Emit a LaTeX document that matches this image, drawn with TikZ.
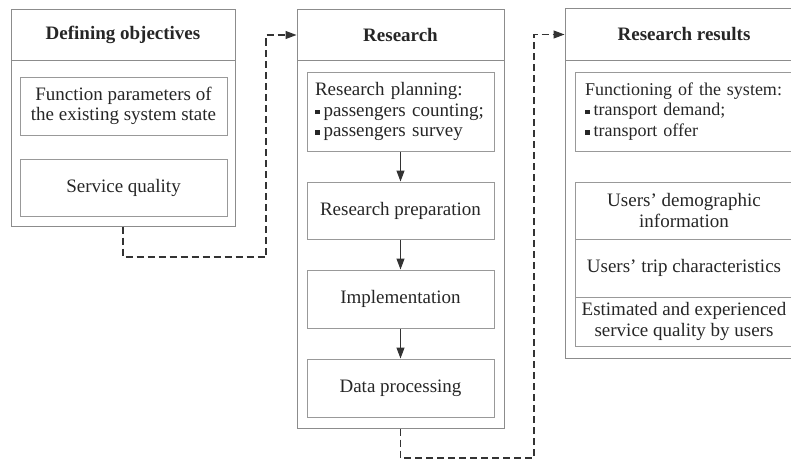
\documentclass[tikz,border=0pt]{standalone}
\usepackage{fontspec}
\setmainfont{Liberation Serif}
\usetikzlibrary{arrows.meta,positioning}
\newcommand{\boxfont}{\fontsize{19}{20.5}\selectfont}
\tikzset{
  frame/.style={rectangle, draw=black!45, line width=1pt, inner sep=0pt},
  headbox/.style={frame, font=\boxfont\bfseries, minimum height=50pt},
  stepbox/.style={rectangle, draw=black!40, line width=1pt, align=center, inner sep=0pt},
  listbox/.style={stepbox, align=left},
  flow/.style={-{Triangle[length=11pt,width=8pt]}, line width=1.1pt, draw=black!80},
  fb/.style={flow, dash pattern=on 7pt off 4pt},
}
\newcommand{\sqb}{\raisebox{0.22ex}{\rule{4.5pt}{4.5pt}}\hspace{4pt}}

\begin{document}
\begin{tikzpicture}[x=1pt, y=-1pt, font=\boxfont, text=black!85]
  \clip (0,0) rectangle (791,460);
  % defining objectives
  \node[headbox, minimum width=224pt] (objhead) at (123,35) {Defining objectives};
  \node[frame, minimum width=224pt, minimum height=166pt] (objbody) at (123,143) {};
  \node[stepbox, minimum width=207pt, minimum height=58pt] (objfun) at (123.5,106)
    {Function parameters of\\the existing system state};
  \node[stepbox, minimum width=207pt, minimum height=57pt] (objsq) at (123.5,187.5)
    {Service quality};
  % research
  \node[headbox, minimum width=207pt] (reshead) at (400.5,35) {Research};
  \node[frame, minimum width=207pt, minimum height=368pt] (resbody) at (400.5,244) {};
  \node[listbox, text width=171pt, minimum width=187pt, minimum height=79pt] (resplan) at (400.5,111.5)
    {Research planning:\\\sqb passengers counting;\\\sqb passengers survey};
  \node[stepbox, minimum width=187pt, minimum height=57pt] (resprep) at (400.5,210.5) {Research preparation};
  \node[stepbox, minimum width=187pt, minimum height=58pt] (resimpl) at (400.5,299) {Implementation};
  \node[stepbox, minimum width=187pt, minimum height=58pt] (resdata) at (400.5,388) {Data processing};
  \foreach \a/\b in {resplan/resprep, resprep/resimpl, resimpl/resdata}
    \draw[flow] (\a) -- (\b);
  % research results
  \node[headbox, minimum width=238pt, minimum height=51pt] (outhead) at (684,34.5) {Research results};
  \node[frame, minimum width=238pt, minimum height=298pt] (outbody) at (684,209) {};
  \node[listbox, font=\fontsize{18}{20.5}\selectfont, text width=198pt, minimum width=218pt,
    minimum height=79pt] (outfun) at (684,111.5)
    {\mbox{Functioning of the system:}\\\sqb transport demand;\\\sqb transport offer};
  \node[stepbox, minimum width=218pt, minimum height=57pt] (outdemo) at (684,210.5)
    {Users' demographic\\information};
  \node[stepbox, minimum width=218pt, minimum height=58pt] (outtrip) at (684,268)
    {Users' trip characteristics};
  \node[stepbox, minimum width=218pt, minimum height=49pt] (outqual) at (684,321.5)
    {Estimated and experienced\\service quality by users};
  % dashed links between stages
  \coordinate (j1) at (266,257);
  \coordinate (j2) at (534,458);
  \draw[fb] (objbody.south) |- (j1) |- (reshead.west);
  \draw[fb] (resbody.south) |- (j2) |- (outhead.west);
\end{tikzpicture}
\end{document}
